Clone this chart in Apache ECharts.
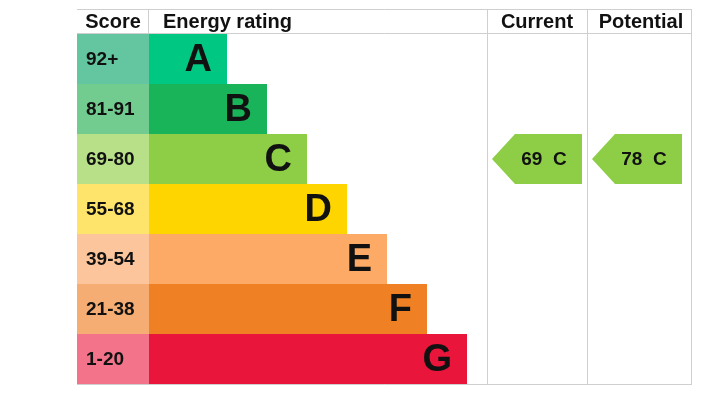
<!DOCTYPE html>
<html lang="en">
<head>
  <meta charset="UTF-8">
  <title>Energy rating</title>
  <script src="https://cdn.jsdelivr.net/npm/echarts@6.0.0/dist/echarts.min.js"></script>
  <style>
    html, body { margin: 0; padding: 0; background: #fff; }
  </style>
</head>
<body>
<div id="main" style="width:713px;height:403px;"></div>
<script type="text/javascript">
  // bands and their score ranges
  var bands = ['A', 'B', 'C', 'D', 'E', 'F', 'G'];
  var scoreRanges = ['92+', '81-91', '69-80', '55-68', '39-54', '21-38', '1-20'];
  var rangeMin = [92, 81, 69, 55, 39, 21, 1];
  // bar length of each band (axis units)
  var barLengths = [78, 118, 158, 198, 238, 278, 318];
  var scoreCell = [72, 72, 72, 72, 72, 72, 72];
  var bandColors = ['#00c781', '#19b459', '#8dce46', '#ffd500', '#fcaa65', '#ef8023', '#e9153b'];
  var scoreColors = ['#63c6a1', '#72cb8f', '#b8e089', '#fee46a', '#fdc59b', '#f5ad73', '#f2738a'];

  var currentScore = 69;
  var potentialScore = 78;

  var font = "'Liberation Sans', Arial, sans-serif";
  var lineColor = '#cfcfcf';

  function bandOf(score) {
    for (var i = 0; i < rangeMin.length; i++) {
      if (score >= rangeMin[i]) return i;
    }
    return rangeMin.length - 1;
  }

  var chartDom = document.getElementById('main');
  var myChart = echarts.init(chartDom);
  var option;

  // table frame: left 77, right 691, top 9, header 33, bottom 384
  var L = 77, R = 691, T = 9, H = 33, B = 384;
  var colCurrent = 487, colPotential = 587;

  function hline(y) {
    return { type: 'line', shape: { x1: L, y1: y, x2: R + 0.5, y2: y }, style: { stroke: lineColor, lineWidth: 1 } };
  }
  function vline(x, y1, y2) {
    return { type: 'line', shape: { x1: x, y1: y1, x2: x, y2: y2 }, style: { stroke: lineColor, lineWidth: 1 } };
  }
  function header(text, x, align) {
    return {
      type: 'text',
      x: x, y: 22,
      style: { text: text, fill: '#111', font: 'bold 20px ' + font, textAlign: align, textVerticalAlign: 'middle' }
    };
  }

  function arrow(score, colLeft) {
    return {
      value: [colLeft - L + 50, bandOf(score)],
      label: { formatter: score + '  ' + bands[bandOf(score)] },
      itemStyle: { color: bandColors[bandOf(score)], opacity: 1 }
    };
  }

  option = {
    animation: false,
    grid: { left: L, top: H + 1, width: R - L, height: B - H - 1, containLabel: false },
    xAxis: { type: 'value', min: 0, max: R - L, show: false },
    yAxis: { type: 'category', data: bands, inverse: true, show: false },
    graphic: [
      hline(T + 0.5), hline(H + 0.5), hline(B + 0.5),
      vline(148.5, T, H),
      vline(colCurrent + 0.5, T, B + 1),
      vline(colPotential + 0.5, T, B + 1),
      vline(R + 0.5, T, B + 1),
      header('Score', 113, 'center'),
      header('Energy rating', 163, 'left'),
      header('Current', 537, 'center'),
      header('Potential', 641, 'center')
    ],
    series: [
      {
        type: 'bar',
        stack: 'row',
        barCategoryGap: '0%',
        data: scoreCell.map(function (v, i) {
          return { value: v, itemStyle: { color: scoreColors[i] } };
        }),
        label: {
          show: true,
          position: 'insideLeft',
          distance: 9,
          offset: [0, 1],
          color: '#111',
          fontFamily: font,
          fontWeight: 'bold',
          fontSize: 19,
          formatter: function (p) { return scoreRanges[p.dataIndex]; }
        }
      },
      {
        type: 'bar',
        stack: 'row',
        barCategoryGap: '0%',
        data: barLengths.map(function (v, i) {
          return { value: v, itemStyle: { color: bandColors[i] } };
        }),
        label: {
          show: true,
          position: 'insideRight',
          distance: 15,
          offset: [0, 2],
          color: '#111',
          fontFamily: font,
          fontWeight: 'bold',
          fontSize: 38,
          formatter: function (p) { return bands[p.dataIndex]; }
        }
      },
      {
        type: 'scatter',
        symbol: 'path://M0,25L23,0L90,0L90,50L23,50Z',
        symbolSize: [90, 50],
        symbolKeepAspect: false,
        itemStyle: { opacity: 1 },
        data: [arrow(currentScore, colCurrent), arrow(potentialScore, colPotential)],
        label: {
          show: true,
          position: 'inside',
          offset: [7, 1],
          color: '#111',
          fontFamily: font,
          fontWeight: 'bold',
          fontSize: 19
        }
      }
    ]
  };

  option && myChart.setOption(option);
</script>
</body>
</html>
